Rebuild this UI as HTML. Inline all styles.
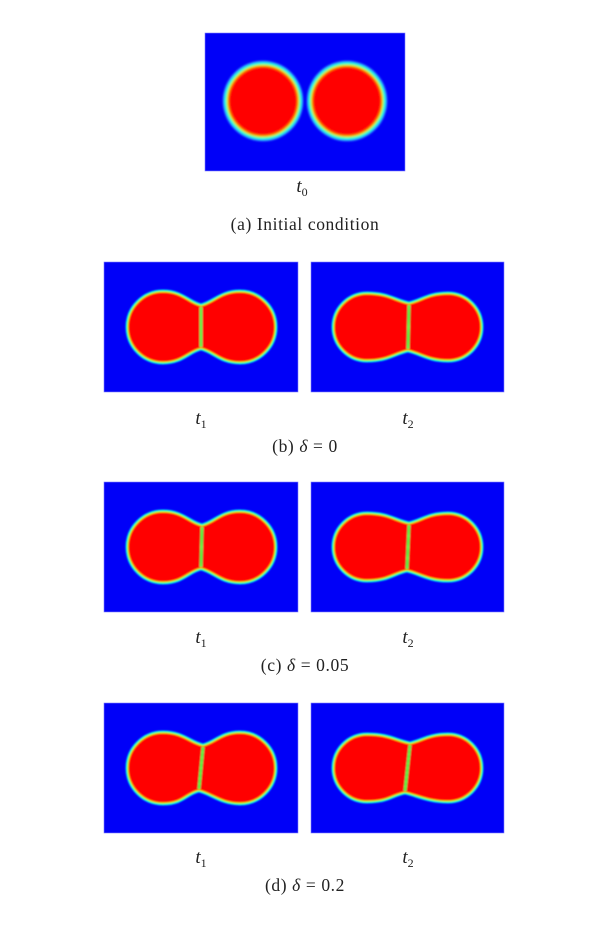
<!DOCTYPE html>
<html><head><meta charset="utf-8">
<style>
body{margin:0;background:#fff;width:613px;height:931px;overflow:hidden;font-family:"Liberation Serif",serif;}
svg{position:absolute;left:0;top:0}
text{font-family:"Liberation Serif",serif;fill:#222}
</style></head>
<body>
<svg id="fig" width="613" height="931" viewBox="0 0 613 931">
<defs>
<filter id="soft" x="-20%" y="-20%" width="140%" height="140%"><feGaussianBlur stdDeviation="0.7"/></filter>
<filter id="soft2" x="-20%" y="-20%" width="140%" height="140%"><feGaussianBlur stdDeviation="1.1"/></filter>
</defs>
<g id="panels"></g>
<g font-size="19" font-style="italic" text-anchor="middle">
<text x="302" y="192">t<tspan font-size="12" font-style="normal" dy="4">0</tspan></text>
<text x="201" y="424">t<tspan font-size="12" font-style="normal" dy="4">1</tspan></text>
<text x="408" y="424">t<tspan font-size="12" font-style="normal" dy="4">2</tspan></text>
<text x="201" y="643">t<tspan font-size="12" font-style="normal" dy="4">1</tspan></text>
<text x="408" y="643">t<tspan font-size="12" font-style="normal" dy="4">2</tspan></text>
<text x="201" y="863">t<tspan font-size="12" font-style="normal" dy="4">1</tspan></text>
<text x="408" y="863">t<tspan font-size="12" font-style="normal" dy="4">2</tspan></text>
</g>
<g font-size="17.5" text-anchor="middle" letter-spacing="0.6">
<text x="305" y="230">(a) Initial condition</text>
<text x="305" y="452">(b) <tspan font-style="italic">δ</tspan> = 0</text>
<text x="305" y="671">(c) <tspan font-style="italic">δ</tspan> = 0.05</text>
<text x="305" y="891">(d) <tspan font-style="italic">δ</tspan> = 0.2</text>
</g>
</svg>
<script>
// panel geometry: [x, y, w, h]
const panelX = [205, 104, 311, 104, 311, 104, 311];
const panelY = [33, 262, 262, 482, 482, 703, 703];
const panelW = [200, 194, 193, 194, 193, 194, 193];
const panelH = [138, 130, 130, 130, 130, 130, 130];
// shape data: left extent, neck x (top), neck x (bottom), right extent, lobe radius, neck half-height
const leftExt = [0, 129, 335, 129, 335, 129, 335];
const neckTop = [0, 201, 409, 202, 409, 203, 410];
const neckBot = [0, 201, 408, 201, 407, 199, 405];
const rightExt = [0, 274, 480, 274, 480, 274, 480];
const lobeR = [0, 34, 32, 34, 32, 34, 32];
const neckH = [0, 20, 22, 20, 22, 21, 23];
const ns = "http://www.w3.org/2000/svg";
const G = document.getElementById('panels');
function mk(t, a, p){const e=document.createElementNS(ns,t);for(const k in a)e.setAttribute(k,a[k]);(p||G).appendChild(e);return e;}
const layers = [["#00e0ff",7],["#00ff90",5],["#a0ff00",3.4],["#ffc000",2],["#ff4000",1]];
const layersA = [["#40c0ff",12],["#00f0ff",9.5],["#00ff90",7],["#c0ff00",5],["#ffb000",3],["#ff4000",1.5]];
for(let i=0;i<panelX.length;i++){
  const g = mk('g',{});
  
  
  mk('rect',{x:panelX[i],y:panelY[i],width:panelW[i],height:panelH[i],fill:'#0000f8',stroke:'#8080ff','stroke-width':0.6},g);
  if(i===0){
    const inner0 = mk('g',{filter:'url(#soft2)'},g);
    const cy = panelY[0]+68;
    [263,347].forEach((cx,j)=>{
      layersA.forEach(([c,w])=>mk('circle',{cx,cy,r:34,fill:'none',stroke:c,'stroke-width':w},inner0));
      const cc = mk('circle',{cx,cy,r:33.5,fill:'#ff0000'},inner0);
      
      
    });
    continue;
  }
  const inner = mk('g',{filter:'url(#soft)'},g);
  const cy = panelY[i]+65, r=lobeR[i], h=neckH[i];
  const cxL = leftExt[i]+r, cxR = rightExt[i]-r, nt=neckTop[i], nb=neckBot[i];
  const dL = nt-cxL, dR = cxR-nt;
  const d = `M${nt},${cy-h} C${nt-0.35*dL},${cy-h-3} ${cxL+0.5*dL},${cy-r} ${cxL},${cy-r}`+
    ` A${r},${r} 0 0 0 ${cxL},${cy+r}`+
    ` C${cxL+0.5*dL},${cy+r} ${nb-0.35*dL},${cy+h+3} ${nb},${cy+h}`+
    ` C${nb+0.35*dR},${cy+h+3} ${cxR-0.5*dR},${cy+r} ${cxR},${cy+r}`+
    ` A${r},${r} 0 0 0 ${cxR},${cy-r}`+
    ` C${cxR-0.5*dR},${cy-r} ${nt+0.35*dR},${cy-h-3} ${nt},${cy-h} Z`;
  layers.forEach(([c,w])=>mk('path',{d,fill:'none',stroke:c,'stroke-width':w,'stroke-linejoin':'round'},inner));
  const sh = mk('path',{d,fill:'#ff0000'},inner);
  
  
  mk('line',{x1:nt,y1:cy-h,x2:nb,y2:cy+h,stroke:'#00e060','stroke-width':3},inner);
  const il = mk('line',{x1:nt,y1:cy-h,x2:nb,y2:cy+h,stroke:'#90ff00','stroke-width':1},inner);
  
  
}
</script>
</body></html>
